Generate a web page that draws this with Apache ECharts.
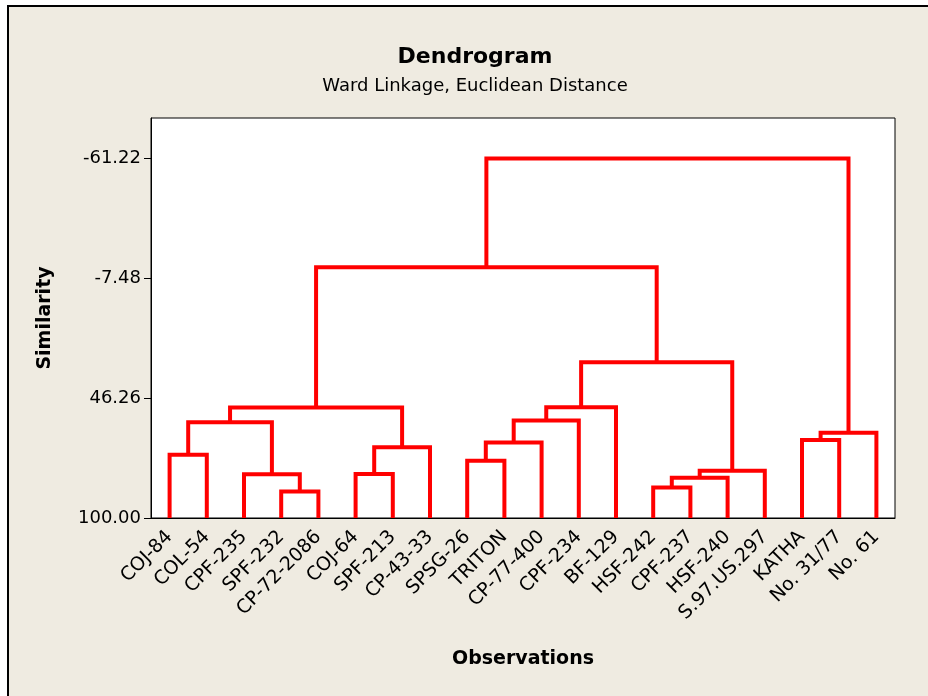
<!DOCTYPE html>
<html>
<head>
<meta charset="utf-8">
<script src="https://cdn.jsdelivr.net/npm/echarts@6/dist/echarts.min.js"></script>
<style>html,body{margin:0;padding:0;background:#fff;}#c{width:928px;height:696px;}</style>
</head>
<body>
<div id="c"></div>
<script>
// Leaves (observations), in dendrogram order
const leaves = ['COJ-84','COL-54','CPF-235','SPF-232','CP-72-2086','COJ-64','SPF-213','CP-43-33','SPSG-26','TRITON','CP-77-400','CPF-234','BF-129','HSF-242','CPF-237','HSF-240','S.97.US.297','KATHA','No. 31/77','No. 61'];
// Merges: ids 0..19 are leaves, merge k creates cluster id 20+k
const mergeLeft   = [13, 3, 20, 2, 5, 22, 8, 0, 24, 26, 17, 30, 27, 29, 32, 33, 35, 34, 37];
const mergeRight  = [14, 4, 15, 21, 6, 16, 9, 1, 7, 10, 18, 19, 23, 11, 28, 12, 25, 36, 31];
const mergeHeight = [86.3, 88.1, 82.0, 80.4, 80.3, 78.8, 74.3, 71.6, 68.3, 66.1, 65.0, 61.8, 57.1, 56.3, 50.4, 50.3, 30.1, -12.5, -61.22];
const yTicks = [100.00, 46.26, -7.48, -61.22];

const n = leaves.length;
const posX = [], posH = [];
for (let i = 0; i < n; i++) { posX.push(i); posH.push(100); }
const links = [];
for (let k = 0; k < mergeHeight.length; k++) {
  const a = mergeLeft[k], b = mergeRight[k], h = mergeHeight[k];
  links.push([posX[a], posH[a], posX[b], posH[b], h]);
  posX.push((posX[a] + posX[b]) / 2);
  posH.push(h);
}

const FONT = "'DejaVu Sans', sans-serif";
const chart = echarts.init(document.getElementById('c'));
chart.setOption({
  backgroundColor: '#ffffff',
  animation: false,
  graphic: [{
    type: 'rect', z: -10, silent: true,
    shape: { x: 8, y: 6, width: 960, height: 720 },
    style: { fill: '#efebe1', stroke: '#000', lineWidth: 2 }
  }],
  title: {
    text: 'Dendrogram',
    subtext: 'Ward Linkage, Euclidean Distance',
    left: 470, top: 41, textAlign: 'center', itemGap: 9,
    textStyle: { fontFamily: FONT, fontSize: 22, fontWeight: 'bold', color: '#000' },
    subtextStyle: { fontFamily: FONT, fontSize: 18, color: '#000' }
  },
  grid: {
    left: 151, top: 118, right: 33, bottom: 178,
    show: true, backgroundColor: '#ffffff', borderColor: '#000', borderWidth: 1
  },
  xAxis: [{
    type: 'category', data: leaves, boundaryGap: true,
    name: 'Observations', nameLocation: 'middle', nameGap: 132,
    nameTextStyle: { fontFamily: FONT, fontSize: 19, fontWeight: 'bold', color: '#000' },
    axisLine: { onZero: false, lineStyle: { color: '#000', width: 1 } },
    axisTick: { alignWithLabel: true, length: 7, lineStyle: { color: '#000' } },
    axisLabel: { rotate: 45, interval: 0, margin: 16, fontFamily: FONT, fontSize: 19, color: '#000' },
    splitLine: { show: false }
  }, {
    type: 'value', min: -0.5, max: n - 0.5, show: false, position: 'bottom',
    axisLine: { onZero: false }
  }],
  yAxis: {
    type: 'value', inverse: true, min: -79.4, max: 100,
    name: 'Similarity', nameLocation: 'middle', nameGap: 96, nameRotate: 90,
    nameTextStyle: { fontFamily: FONT, fontSize: 19, fontWeight: 'bold', color: '#000' },
    axisLine: { show: true, onZero: false, lineStyle: { color: '#000', width: 1 } },
    axisTick: { show: true, length: 7, customValues: yTicks, lineStyle: { color: '#000' } },
    axisLabel: { customValues: yTicks, margin: 10, fontFamily: FONT, fontSize: 18, color: '#000',
                 formatter: v => v.toFixed(2) },
    splitLine: { show: false }
  },
  series: [{
    type: 'custom', xAxisIndex: 1, yAxisIndex: 0, clip: false,
    data: links,
    encode: { x: [0, 2], y: [1, 3, 4] },
    renderItem: function (params, api) {
      const xl = api.value(0), hl = api.value(1), xr = api.value(2), hr = api.value(3), h = api.value(4);
      return {
        type: 'polyline',
        shape: { points: [api.coord([xl, hl]), api.coord([xl, h]), api.coord([xr, h]), api.coord([xr, hr])] },
        style: { stroke: '#ff0000', lineWidth: 4, fill: null, lineJoin: 'miter', lineCap: 'butt' }
      };
    }
  }]
});
</script>
</body>
</html>
